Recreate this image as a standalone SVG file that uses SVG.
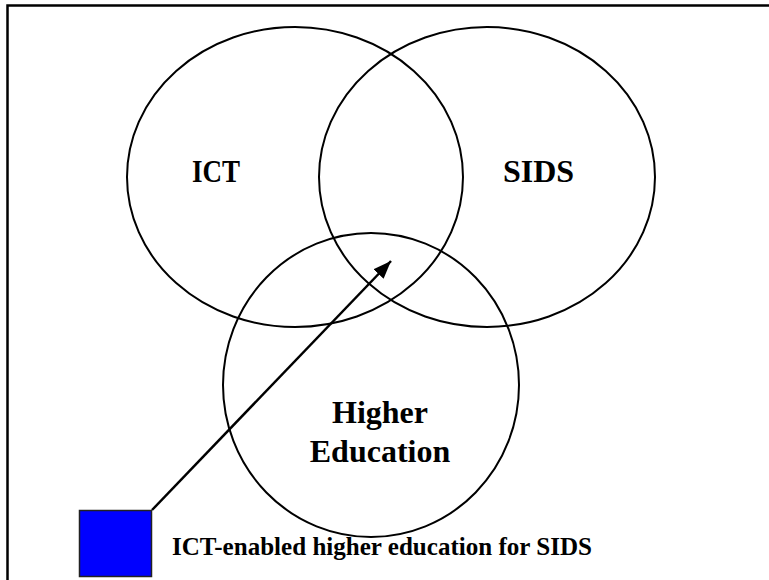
<svg xmlns="http://www.w3.org/2000/svg" width="769" height="580" viewBox="0 0 769 580">
<defs>
<style>
.c{fill:none;stroke:#000;stroke-width:2}
.big{font-family:"Liberation Serif","Times New Roman",serif;font-weight:bold;font-size:32px;fill:#000}
.small{font-family:"Liberation Serif","Times New Roman",serif;font-weight:bold;font-size:25px;fill:#000}
</style>
<marker id="ah" markerUnits="userSpaceOnUse" markerWidth="20" markerHeight="16" refX="18" refY="7" orient="auto">
<path d="M0,0 L18,7 L0,14 Z" fill="#000"/>
</marker>
</defs>
<rect x="7.5" y="5.5" width="800" height="620" fill="#fff" stroke="#000" stroke-width="2.5"/>
<g id="ict">
<ellipse class="c" cx="295" cy="177" rx="168" ry="150"/>
<text class="big" x="216" y="182" text-anchor="middle" textLength="48" lengthAdjust="spacingAndGlyphs">ICT</text>
</g>
<g id="sids">
<ellipse class="c" cx="487" cy="177" rx="168" ry="150"/>
<text class="big" x="503" y="182">SIDS</text>
</g>
<g id="higher-education">
<ellipse class="c" cx="371" cy="385" rx="148" ry="152"/>
<text class="big" x="380" y="423" text-anchor="middle">Higher</text>
<text class="big" x="380" y="462" text-anchor="middle">Education</text>
</g>
<g id="legend">
<rect x="79.5" y="510.5" width="72" height="66" fill="#0000ff" stroke="#222" stroke-width="1.5"/>
<text class="small" x="172" y="555" textLength="420" lengthAdjust="spacingAndGlyphs">ICT-enabled higher education for SIDS</text>
</g>
<g id="connectors">
<line x1="152" y1="510" x2="391" y2="261" stroke="#000" stroke-width="2.5" marker-end="url(#ah)"/>
</g>
</svg>
